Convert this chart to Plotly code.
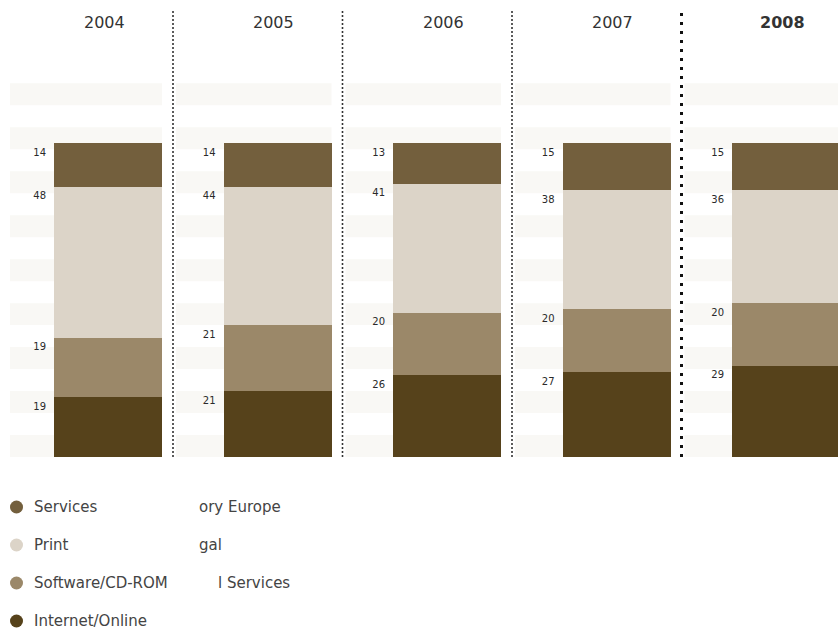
import numpy as np
import plotly.graph_objects as go

# ---- data ----
years = [2004, 2005, 2006, 2007, 2008]
series_names = ["Internet/Online", "Software/CD-ROM", "Print", "Services"]  # bottom -> top
internet = [19, 21, 26, 27, 29]
software = [19, 21, 20, 20, 20]
print_ = [48, 44, 41, 38, 36]
services = [14, 14, 13, 15, 15]
colors = ["#56421b", "#9b8869", "#dcd4c8", "#735f3d"]
legend_order = ["Services", "Print", "Software/CD-ROM", "Internet/Online"]
stray_texts = ["ory Europe", "gal", "l Services"]

FONT = "DejaVu Sans"

# ---- geometry helpers (pixel mapping) ----
W, H = 838, 637
px_per_year = 169.5
x0_year = 2004 - 108 / px_per_year
x1_year = 2004 + (W - 108) / px_per_year
px_per_unit = 3.14
base_px = 457
y_top = base_px / px_per_unit
y_bot = -(H - base_px) / px_per_unit
bar_w = 108 / px_per_year
sep_off = 65 / px_per_year

fig = go.Figure()

values = [internet, software, print_, services]
for name, vals, col in zip(series_names, values, colors):
    fig.add_trace(go.Bar(x=years, y=vals, name=name, width=bar_w,
                         marker=dict(color=col, line=dict(width=0)),
                         showlegend=False, hoverinfo="skip"))

# value labels at the top-left of each segment
cum = np.cumsum(np.array(values), axis=0)
for vals, tops in zip(values, cum):
    fig.add_trace(go.Scatter(
        x=[y - bar_w / 2 - 8 / px_per_year for y in years],
        y=[t - 10 / px_per_unit for t in tops],
        text=[str(v) for v in vals], mode="text", textposition="middle left",
        textfont=dict(family=FONT, size=10, color="#2a2a2a"),
        showlegend=False, hoverinfo="skip"))

shapes = []
# background stripes, per panel: from just right of the previous separator to bar's right edge
for i, yr in enumerate(years):
    left = x0_year + 10 / px_per_year if i == 0 else years[i - 1] + sep_off + 3 / px_per_year
    right = yr + bar_w / 2
    for k in range(9):
        shapes.append(dict(type="rect", xref="x", yref="y",
                           x0=left, x1=right, y0=k * 14, y1=k * 14 + 7,
                           fillcolor="#f9f8f5", line=dict(width=0), layer="below"))
# separators
for i, yr in enumerate(years[:-1]):
    last = (i == len(years) - 2)
    shapes.append(dict(type="line", xref="x", yref="y",
                       x0=yr + sep_off, x1=yr + sep_off,
                       y0=0, y1=(base_px - 10) / px_per_unit,
                       line=dict(color="#111111" if last else "#333333",
                                 width=3 if last else 1.6,
                                 dash="3px,6px" if last else "2px,2px"),
                       layer="above"))

annotations = []
for yr in years:
    txt = f"<b>{yr}</b>" if yr == years[-1] else str(yr)
    annotations.append(dict(x=yr - 4 / px_per_year, y=(base_px - 22) / px_per_unit,
                            xref="x", yref="y", text=txt, showarrow=False,
                            font=dict(family=FONT, size=16, color="#333333")))

# legend (custom, round bullets)
color_of = dict(zip(series_names, colors))
leg_px = [507, 545, 583, 621]
for name, p in zip(legend_order, leg_px):
    shapes.append(dict(type="circle", xref="paper", yref="paper",
                       x0=10 / W, x1=23 / W,
                       y0=1 - (p + 6.5) / H, y1=1 - (p - 6.5) / H,
                       fillcolor=color_of[name], line=dict(width=0)))
    annotations.append(dict(x=32 / W, y=1 - p / H, xref="paper", yref="paper",
                            xanchor="left", yanchor="middle", text=name,
                            showarrow=False,
                            font=dict(family=FONT, size=15, color="#444444")))
for txt, p, xp in zip(stray_texts, leg_px[:3], [197, 197, 216]):
    annotations.append(dict(x=xp / W, y=1 - p / H, xref="paper", yref="paper",
                            xanchor="left", yanchor="middle", text=txt,
                            showarrow=False,
                            font=dict(family=FONT, size=15, color="#444444")))

fig.update_layout(
    width=W, height=H, margin=dict(l=0, r=0, t=0, b=0),
    barmode="stack", bargap=0,
    plot_bgcolor="white", paper_bgcolor="white",
    xaxis=dict(range=[x0_year, x1_year], visible=False, fixedrange=True),
    yaxis=dict(range=[y_bot, y_top], visible=False, fixedrange=True),
    shapes=shapes, annotations=annotations, showlegend=False,
)

fig.write_html("out.html")
